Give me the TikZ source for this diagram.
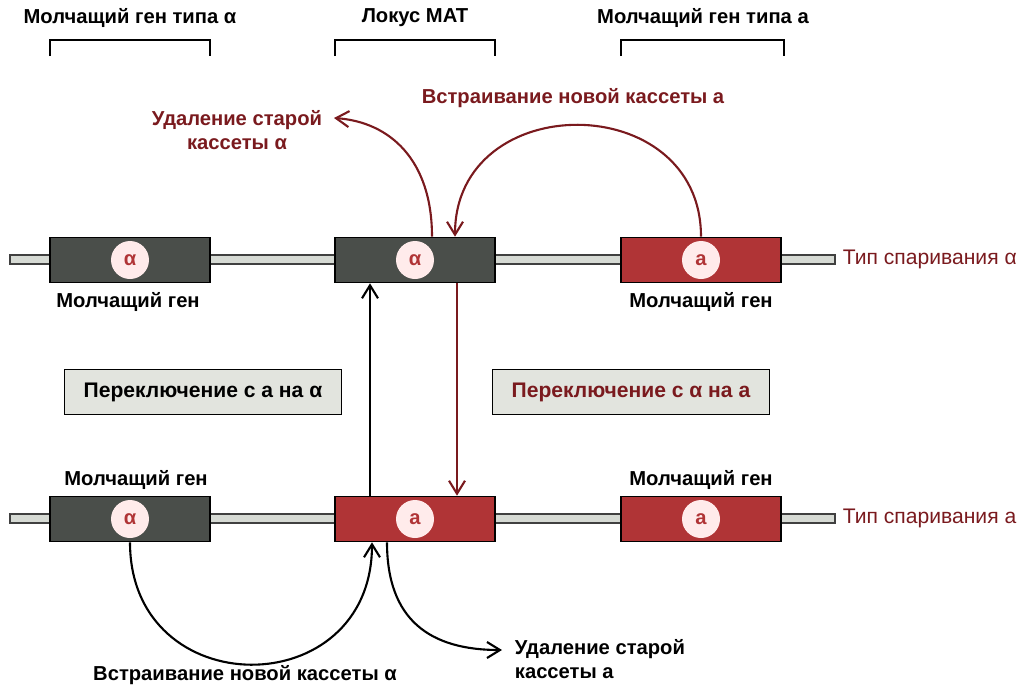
\documentclass[tikz,border=0pt]{standalone}
\usepackage{fontspec}
\setmainfont{Liberation Sans}
\usepackage{tikz}
\usetikzlibrary{arrows.meta,positioning,calc}

\definecolor{silentgrey}{RGB}{74,78,74}
\definecolor{matred}{RGB}{176,52,54}
\definecolor{darkred}{RGB}{122,26,30}
\definecolor{rodgrey}{RGB}{214,218,212}
\definecolor{panelgrey}{RGB}{226,228,222}

\begin{document}
\begin{tikzpicture}[x=0.02cm, y=-0.02cm,
  every node/.style={font=\fontsize{11.5}{13.5}\selectfont\bfseries},
  rod/.style={draw=black!75, fill=rodgrey, line width=0.8pt},
  alphabox/.style={rectangle, draw=black, fill=silentgrey, line width=0.9pt,
                   minimum width=3.2cm, minimum height=0.9cm},
  abox/.style={alphabox, fill=matred},
  cassette/.style={circle, fill=white!92!red, minimum size=0.76cm, inner sep=0pt},
  switchbox/.style={rectangle, draw=black, fill=panelgrey, line width=0.9pt,
                    minimum width=5.54cm, minimum height=0.9cm,
                    font=\fontsize{12}{14}\selectfont\bfseries},
  bracket/.style={draw=black, line width=0.8pt},
  >={Straight Barb[length=2.6mm,width=3.2mm]}, line width=1.2pt
]
  \useasboundingbox (0,0) rectangle (1021,687);

  % top labels and brackets
  \node (tl1) at (130,18) {Молчащий ген типа α};
  \node (tl2) at (415,18) {Локус MAT};
  \node (tl3) at (703,18) {Молчащий ген типа a};
  \draw[bracket] (50,56) -- (50,40) -- (210,40) -- (210,56);
  \draw[bracket] (335,56) -- (335,40) -- (495,40) -- (495,56);
  \draw[bracket] (621,56) -- (621,40) -- (784,40) -- (784,56);

  % chromosome, mating type alpha
  \draw[rod] (10,255) rectangle (835,264);
  \node[alphabox] (hml1) at (130,260) {};
  \node[alphabox] (mat1) at (415,260) {};
  \node[abox]     (hmr1) at (701,260) {};
  \node[cassette, text=matred] (c1) at (hml1) {α};
  \node[cassette, text=matred] (c2) at (mat1) {α};
  \node[cassette, text=matred] (c3) at (hmr1) {a};
  \node (s1) at (128,302) {Молчащий ген};
  \node (s3) at (701,302) {Молчащий ген};
  \node[anchor=west, text=darkred, font=\fontsize{12}{14}\selectfont] (mt1) at (836,259) {Тип спаривания α};

  % switching panels
  \node[switchbox] (sw1) at (203,392) {Переключение с a на α};
  \node[switchbox, text=darkred] (sw2) at (631,392) {Переключение с α на a};

  % chromosome, mating type a
  \draw[rod] (10,514) rectangle (835,523);
  \node[alphabox] (hml2) at (130,519) {};
  \node[abox]     (mat2) at (415,519) {};
  \node[abox]     (hmr2) at (701,519) {};
  \node[cassette, text=matred] (c4) at (hml2) {α};
  \node[cassette, text=matred] (c5) at (mat2) {a};
  \node[cassette, text=matred] (c6) at (hmr2) {a};
  \node (s4) at (136,480) {Молчащий ген};
  \node (s6) at (701,480) {Молчащий ген};
  \node[anchor=west, text=darkred, font=\fontsize{12}{14}\selectfont] (mt2) at (836,518) {Тип спаривания a};

  % switch alpha -> a (red)
  \coordinate (out1) at (334,118);
  \node[text=darkred, align=center] (del1) at (237,130) {Удаление старой\\кассеты α};
  \node[text=darkred] (ins1) at (573,98) {Встраивание новой кассеты a};
  \draw[->, darkred] ($(mat1.north)+(17,0)$) .. controls (432,160) and (390,122) .. (out1);
  \draw[->, darkred] (hmr1.north) .. controls (701,88) and (455,88) .. ($(mat1.north)+(40,0)$);
  \draw[->, darkred] ($(mat1.south)+(42,0)$) -- ($(mat2.north)+(42,0)$);

  % switch a -> alpha (black)
  \draw[->] ($(mat2.north)+(-45,0)$) -- ($(mat1.south)+(-45,0)$);
  \coordinate (out2) at (502,650);
  \node (ins2) at (245,675) {Встраивание новой кассеты α};
  \node[align=left, anchor=north west] (del2) at (508,633) {Удаление старой\\кассеты a};
  \draw[->] (hml2.south) .. controls (130,705) and (372,705) .. ($(mat2.south)+(-43,0)$);
  \draw[->] ($(mat2.south)+(-28,0)$) .. controls (387,620) and (430,650) .. (out2);
\end{tikzpicture}
\end{document}
